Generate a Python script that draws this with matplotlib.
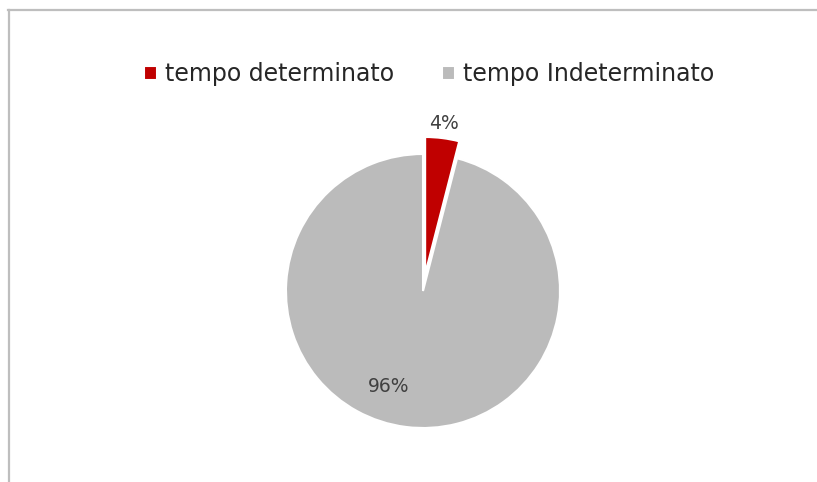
import matplotlib
matplotlib.use("Agg")
import matplotlib.pyplot as plt
from matplotlib.lines import Line2D
import numpy as np

categories = ["tempo determinato", "tempo Indeterminato"]
values = [4, 96]
colors = ["#C00000", "#BBBBBB"]
explode = [0.125, 0.0]

W, H = 817, 482
fig = plt.figure(figsize=(W / 100, H / 100), dpi=100)
fig.patch.set_facecolor("white")

# pie axes positioned in pixels
cx, cy, r = 423, H - 291, 137
half = 190
ax = fig.add_axes([(cx - half) / W, (cy - half) / H, 2 * half / W, 2 * half / H])
lim = half / r
ax.set_xlim(-lim, lim)
ax.set_ylim(-lim, lim)
ax.set_aspect("equal")
ax.axis("off")

wedges, _ = ax.pie(values, colors=colors, explode=explode, startangle=90,
                   counterclock=False, radius=1.0,
                   wedgeprops=dict(edgecolor="white", linewidth=1.5))
ax.set_xlim(-lim, lim)
ax.set_ylim(-lim, lim)

label_pos = [(0.15, 1.22), (-0.25, -0.70)]
for v, (x, y) in zip(values, label_pos):
    ax.text(x, y, f"{v}%", ha="center", va="center", fontsize=13.5,
            color="#404040", family="DejaVu Sans")

leg = fig.legend(wedges, categories, loc="center", ncol=2,
                 bbox_to_anchor=(429 / W, 1 - 74 / H), frameon=False,
                 fontsize=17, handlelength=0.55, handleheight=0.55,
                 handletextpad=0.35, columnspacing=2.0, borderpad=0)
for t in leg.get_texts():
    t.set_color("#262626")

# frame lines (top and left)
lc = "#BEBEBE"
fig.add_artist(Line2D([8 / W, 1], [1 - 9.5 / H, 1 - 9.5 / H], color=lc, lw=1.6,
                      transform=fig.transFigure))
fig.add_artist(Line2D([8.5 / W, 8.5 / W], [0, 1 - 9.5 / H], color=lc, lw=1.6,
                      transform=fig.transFigure))

fig.savefig("out.png", dpi=100)
